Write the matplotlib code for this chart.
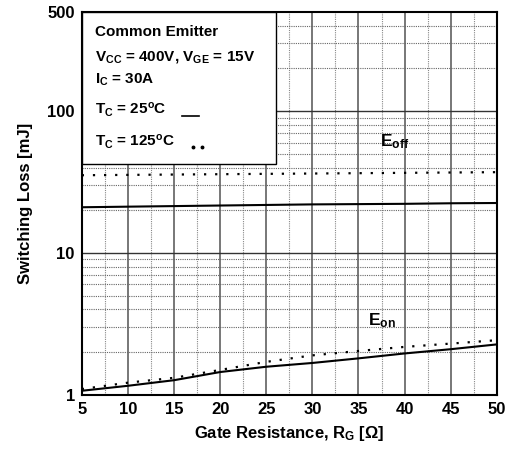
import matplotlib
matplotlib.use("Agg")
import matplotlib.pyplot as plt
from matplotlib.lines import Line2D
from matplotlib.patches import Rectangle
import numpy as np

plt.rcParams['font.family'] = ['Liberation Sans', 'DejaVu Sans']
plt.rcParams['font.weight'] = 'bold'
plt.rcParams['mathtext.fontset'] = 'custom'
plt.rcParams['mathtext.rm'] = 'Liberation Sans:style=normal:weight=bold'
plt.rcParams['mathtext.it'] = 'Liberation Sans:style=normal:weight=bold'
plt.rcParams['mathtext.bf'] = 'Liberation Sans:style=normal:weight=bold'
plt.rcParams['mathtext.sf'] = 'Liberation Sans:style=normal:weight=bold'
plt.rcParams['mathtext.default'] = 'bf'

rg = [5, 10, 15, 20, 25, 30, 35, 40, 45, 50]
eoff_25 = [21.0, 21.2, 21.4, 21.6, 21.8, 22.0, 22.1, 22.2, 22.4, 22.5]
eoff_125 = [35.3, 35.5, 35.7, 35.9, 36.1, 36.3, 36.5, 36.7, 36.9, 37.1]
eon_25 = [1.07, 1.16, 1.27, 1.45, 1.58, 1.68, 1.81, 1.96, 2.1, 2.27]
eon_125 = [1.1, 1.22, 1.32, 1.5, 1.71, 1.9, 2.04, 2.18, 2.3, 2.43]

xticks = [5, 10, 15, 20, 25, 30, 35, 40, 45, 50]
yticks = [1, 10, 100, 500]

fig = plt.figure(figsize=(5.08, 4.55), dpi=100)
ax = fig.add_axes([0.161, 0.132, 0.817, 0.842])
ax.set_yscale('log')
ax.set_xlim(5, 50)
ax.set_ylim(1, 500)

# grid
for x in range(10, 50, 5):
    ax.axvline(x, color='#777777', lw=1.4, zorder=1)
for x in np.arange(7.5, 50, 5):
    ax.axvline(x, color='#888888', lw=0.8, ls=(0, (1, 1)), zorder=1)
for y in [10, 100]:
    ax.axhline(y, color='#333333', lw=1.0, zorder=1)
for dec in [1, 10, 100]:
    for m in range(2, 10):
        v = dec * m
        if v < 500:
            ax.axhline(v, color='#666666', lw=0.8, ls=(0, (1, 1)), zorder=1)

ax.plot(rg, eoff_25, color='black', lw=1.5, zorder=3)
ax.plot(rg, eoff_125, color='black', lw=1.6, ls=(0, (1, 4)), zorder=3)
ax.plot(rg, eon_25, color='black', lw=1.5, zorder=3)
ax.plot(rg, eon_125, color='black', lw=1.6, ls=(0, (1, 4)), zorder=3)

ax.text(37.3, 56, r'E$_{\mathrm{off}}$', fontsize=12.5, fontweight='bold', zorder=4)
ax.text(36.0, 3.1, r'E$_{\mathrm{on}}$', fontsize=12.5, fontweight='bold', zorder=4)

ax.set_xticks(xticks)
ax.set_xticklabels([str(v) for v in xticks], fontsize=12, fontweight='bold')
ax.set_yticks(yticks)
ax.set_yticklabels([str(v) for v in yticks], fontsize=12, fontweight='bold')
ax.minorticks_off()
ax.tick_params(length=0, pad=5)
for s in ax.spines.values():
    s.set_linewidth(1.5)
    s.set_zorder(5)

ax.set_xlabel(r'Gate Resistance, R$_{\mathrm{G}}$ [$\Omega$]', fontsize=12, fontweight='bold', labelpad=5)
ax.set_ylabel('Switching Loss [mJ]', fontsize=12, fontweight='bold', labelpad=10)

# legend box
box = Rectangle((0, 0.603), 0.467, 0.397, transform=ax.transAxes, facecolor='white',
                edgecolor='black', lw=1.0, zorder=6)
ax.add_patch(box)
fs = 11
lx = 0.031
ax.text(lx, 0.948, 'Common Emitter', transform=ax.transAxes, fontsize=fs, fontweight='bold', va='center', zorder=7)
ax.text(lx, 0.883, r'V$_{\mathrm{CC}}$ = 400V, V$_{\mathrm{GE}}$ = 15V', transform=ax.transAxes, fontsize=fs, fontweight='bold', va='center', zorder=7)
ax.text(lx, 0.822, r'I$_{\mathrm{C}}$ = 30A', transform=ax.transAxes, fontsize=fs, fontweight='bold', va='center', zorder=7)
ax.text(lx, 0.744, r'T$_{\mathrm{C}}$ = 25$^{\mathrm{o}}$C', transform=ax.transAxes, fontsize=fs, fontweight='bold', va='center', zorder=7)
ax.text(lx, 0.661, r'T$_{\mathrm{C}}$ = 125$^{\mathrm{o}}$C', transform=ax.transAxes, fontsize=fs, fontweight='bold', va='center', zorder=7)
ax.add_line(Line2D([0.241, 0.282], [0.728, 0.728], transform=ax.transAxes, color='black', lw=1.2, zorder=7))
ax.add_line(Line2D([0.268, 0.29], [0.648, 0.648], transform=ax.transAxes, color='black', lw=0,
                   marker='o', markersize=1.8, zorder=7))

fig.savefig('out.png', dpi=100)
